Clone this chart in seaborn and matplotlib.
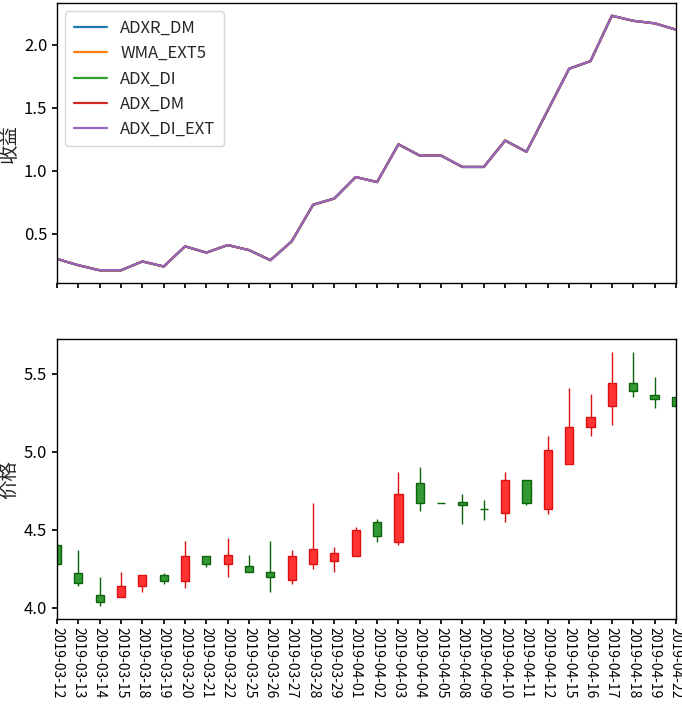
import numpy as np
import pandas as pd
import matplotlib
matplotlib.use("Agg")
import matplotlib.pyplot as plt
import seaborn as sns

# ---------------- data ----------------
dates = ["2019-03-12", "2019-03-13", "2019-03-14", "2019-03-15", "2019-03-18",
         "2019-03-19", "2019-03-20", "2019-03-21", "2019-03-22", "2019-03-25",
         "2019-03-26", "2019-03-27", "2019-03-28", "2019-03-29", "2019-04-01",
         "2019-04-02", "2019-04-03", "2019-04-04", "2019-04-05", "2019-04-08",
         "2019-04-09", "2019-04-10", "2019-04-11", "2019-04-12", "2019-04-15",
         "2019-04-16", "2019-04-17", "2019-04-18", "2019-04-19", "2019-04-22"]

series_names = ["ADXR_DM", "WMA_EXT5", "ADX_DI", "ADX_DM", "ADX_DI_EXT"]

# cumulative returns (all five strategies overlap exactly)
adxr_dm = [0.30, 0.25, 0.21, 0.21, 0.28, 0.24, 0.40, 0.35, 0.41, 0.37,
           0.29, 0.44, 0.73, 0.78, 0.95, 0.91, 1.21, 1.12, 1.12, 1.03,
           1.03, 1.24, 1.15, 1.48, 1.81, 1.87, 2.23, 2.19, 2.17, 2.12]
wma_ext5 = list(adxr_dm)
adx_di = list(adxr_dm)
adx_dm = list(adxr_dm)
adx_di_ext = list(adxr_dm)

opens  = [4.40, 4.22, 4.08, 4.07, 4.14, 4.21, 4.17, 4.33, 4.28, 4.27,
          4.23, 4.18, 4.28, 4.30, 4.33, 4.55, 4.42, 4.80, 4.67, 4.68,
          4.63, 4.61, 4.82, 4.63, 4.92, 5.16, 5.29, 5.44, 5.36, 5.35]
closes = [4.28, 4.16, 4.04, 4.14, 4.21, 4.17, 4.33, 4.28, 4.34, 4.23,
          4.20, 4.33, 4.38, 4.35, 4.50, 4.46, 4.73, 4.67, 4.67, 4.66,
          4.63, 4.82, 4.67, 5.01, 5.16, 5.22, 5.44, 5.39, 5.34, 5.29]
highs  = [4.41, 4.37, 4.20, 4.23, 4.21, 4.22, 4.43, 4.33, 4.45, 4.34,
          4.43, 4.37, 4.67, 4.39, 4.52, 4.57, 4.87, 4.90, 4.67, 4.73,
          4.69, 4.87, 4.82, 5.10, 5.41, 5.37, 5.64, 5.64, 5.48, 5.35]
lows   = [4.27, 4.14, 4.01, 4.07, 4.10, 4.15, 4.13, 4.26, 4.20, 4.23,
          4.10, 4.15, 4.25, 4.23, 4.33, 4.42, 4.40, 4.62, 4.67, 4.54,
          4.56, 4.55, 4.66, 4.60, 4.92, 5.10, 5.17, 5.35, 5.28, 5.29]

# ---------------- style ----------------
sns.set_theme(style="ticks", rc={
    "axes.edgecolor": "black",
    "axes.linewidth": 1.0,
    "xtick.color": "black",
    "ytick.color": "black",
    "xtick.major.size": 3.5,
    "ytick.major.size": 3.5,
})
plt.rcParams["font.family"] = ["Noto Sans CJK SC", "DejaVu Sans"]
plt.rcParams["axes.unicode_minus"] = False

idx = np.arange(len(dates))
series_values = [adxr_dm, wma_ext5, adx_di, adx_dm, adx_di_ext]
long_df = pd.DataFrame({
    "x": np.tile(idx, len(series_names)),
    "value": np.concatenate(series_values),
    "series": np.repeat(series_names, len(dates)),
})

fig = plt.figure(figsize=(6.82, 7.04), dpi=100)
ax1 = fig.add_axes([0.0836, 0.598, 0.9074, 0.3977])
ax2 = fig.add_axes([0.0836, 0.1207, 0.9074, 0.3978], sharex=ax1)

# ---------------- top: returns ----------------
palette = sns.color_palette("tab10", len(series_names))
sns.lineplot(data=long_df, x="x", y="value", hue="series",
             hue_order=series_names, palette=palette, linewidth=1.6, ax=ax1)
ax1.set_xlabel("")
ax1.set_ylabel("收益", fontsize=14, labelpad=3)
ax1.set_yticks([0.5, 1.0, 1.5, 2.0])
ax1.tick_params(axis="y", labelsize=12)
ax1.tick_params(axis="x", labelbottom=False)
leg = ax1.legend(loc="upper left", fontsize=12, handlelength=2.0,
                 borderpad=0.5, labelspacing=0.5, frameon=True)

# ---------------- bottom: candles ----------------
up_fill, up_edge = "#ff3333", "#dd1111"
dn_fill, dn_edge = "#339933", "#0b640b"
for i in idx:
    o, c, h, l = opens[i], closes[i], highs[i], lows[i]
    if c > o:
        fill, edge = up_fill, up_edge
    else:
        fill, edge = dn_fill, dn_edge
    ax2.vlines(i, l, h, color=edge, linewidth=1.0, zorder=1)
    ax2.bar(i, max(abs(c - o), 1e-6), bottom=min(o, c), width=0.38,
            color=fill, edgecolor=edge, linewidth=1.0, zorder=2)

ax2.set_ylabel("价格", fontsize=14, labelpad=3)
ax2.set_yticks([4.0, 4.5, 5.0, 5.5])
ax2.tick_params(axis="y", labelsize=12)
ax2.set_xticks(idx)
ax2.set_xticklabels(dates, rotation=-90, fontsize=10)
ax2.tick_params(axis="x", pad=2)
ax2.set_xlim(0, len(dates) - 1)
ax2.set_ylim(min(lows) - 0.05 * (max(highs) - min(lows)),
             max(highs) + 0.05 * (max(highs) - min(lows)))

for ax in (ax1, ax2):
    for s in ax.spines.values():
        s.set_visible(True)
        s.set_color("black")

fig.savefig("out.png", dpi=100)
